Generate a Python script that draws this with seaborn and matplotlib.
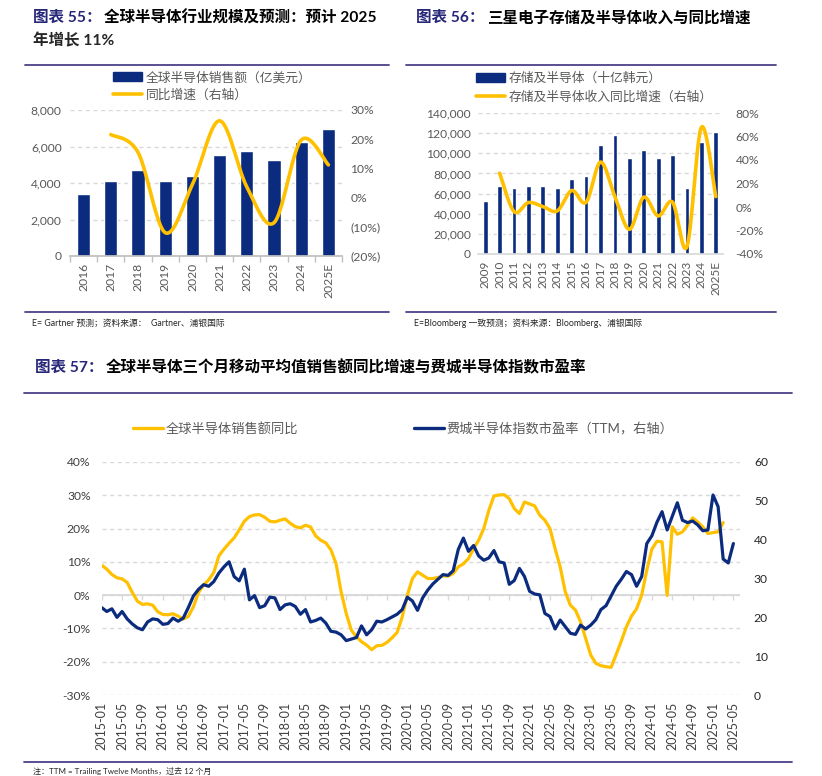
import numpy as np
import pandas as pd
import matplotlib
matplotlib.use('Agg')
import matplotlib.pyplot as plt
from matplotlib.lines import Line2D
from matplotlib.patches import Patch
import seaborn as sns

sns.set_theme(style='white')
plt.rcParams['font.family'] = ['Lato', 'Noto Sans CJK SC', 'DejaVu Sans']

NAVY = '#0B2C7E'
GOLD = '#FFC000'
GRID = '#D9D9D9'
AXIS = '#BFBFBF'
TICK = '#595959'
RULE = '#4A4189'
TITLE_BLUE = '#27277A'

W, H = 822, 776

# ---- chart 55: global semiconductor sales
years55 = ['2016', '2017', '2018', '2019', '2020', '2021', '2022', '2023', '2024', '2025E']
sales55 = [3400, 4110, 4690, 4110, 4400, 5530, 5740, 5260, 6250, 6960]
yoy55 = [np.nan, 21.6, 15.5, -12.0, 4.5, 26.3, 3.7, -8.6, 19.7, 11.2]

# ---- chart 56: Samsung memory & semiconductor revenue
years56 = ['2009', '2010', '2011', '2012', '2013', '2014', '2015', '2016', '2017',
           '2018', '2019', '2020', '2021', '2022', '2023', '2024', '2025E']
rev56 = [52400, 67300, 65300, 67300, 67300, 65300, 74600, 77900, 108100,
         118100, 95200, 102800, 94900, 98500, 66000, 110800, 121100]
yoy56 = [np.nan, 28.8, -3.9, 3.8, 0.4, -3.3, 14.0, 4.0, 38.2,
         8.9, -19.0, 8.3, -7.6, 4.1, -33.7, 67.8, 8.9]

# ---- chart 57: monthly series, 2015-01 .. 2025-05
months57 = pd.date_range('2015-01-01', '2025-05-01', freq='MS')
yoy57 = [9.0, 7.8, 6.2, 5.2, 4.9, 3.8, 0.8, -1.8, -2.8, -2.6, -3.0, -5.0,
         -5.8, -5.9, -5.6, -6.3, -7.2, -6.4, -3.5, 0.8, 3.0, 4.6, 6.8, 11.8,
         13.8, 15.6, 17.2, 19.6, 22.2, 23.6, 24.1, 24.2, 23.4, 22.2, 22.0, 22.5,
         22.9, 21.6, 20.6, 20.2, 21.0, 20.5, 17.8, 16.5, 15.7, 13.6, 9.5, 1.0,
         -5.5, -10.5, -12.5, -14.0, -15.0, -16.4, -15.2, -15.1, -14.2, -12.8, -11.2, -6.5,
         0.0, 5.0, 7.0, 6.0, 5.0, 5.0, 5.3, 5.8, 5.7, 6.5, 8.5, 9.4,
         11.0, 14.0, 16.5, 20.0, 25.5, 29.8, 30.1, 30.2, 29.0, 26.0, 24.5, 28.0,
         27.4, 26.8, 24.0, 22.5, 20.0, 14.0, 8.5, 1.0, -3.0, -4.5, -8.0, -13.0,
         -18.0, -20.5, -21.2, -21.5, -21.7, -17.8, -13.8, -9.5, -6.3, -4.1, 0.0, 7.5,
         13.8, 16.2, 16.0, -0.1, 20.5, 18.3, 19.0, 21.0, 23.2, 22.0, 20.5, 18.5,
         18.8, 19.0, 21.8]
pe57 = [22.5, 21.5, 22.2, 20.0, 21.5, 19.6, 18.3, 17.3, 16.8, 18.8, 19.6, 19.4,
        18.2, 18.4, 19.8, 19.0, 19.8, 22.5, 25.5, 27.2, 28.4, 28.0, 29.2, 31.4,
        33.0, 34.3, 30.5, 29.4, 32.4, 24.5, 25.6, 22.5, 23.0, 25.2, 25.0, 22.0,
        23.2, 23.5, 22.8, 20.8, 22.0, 18.8, 19.2, 19.8, 18.5, 16.4, 16.2, 15.5,
        14.0, 14.4, 14.8, 17.8, 15.5, 16.8, 19.0, 18.8, 19.4, 20.1, 20.8, 22.0,
        25.2, 24.2, 21.8, 25.0, 27.0, 28.6, 29.8, 31.0, 30.8, 32.0, 37.5, 40.4,
        37.0, 38.5, 35.8, 34.7, 35.3, 37.2, 34.3, 34.0, 28.5, 29.5, 32.6, 30.5,
        26.7, 26.0, 25.8, 21.0, 20.2, 17.0, 19.3, 17.6, 15.9, 15.6, 18.0, 17.0,
        18.0, 19.4, 22.0, 23.0, 25.5, 28.0, 29.8, 31.8, 31.0, 28.0, 30.5, 39.0,
        41.0, 44.5, 47.2, 42.5, 46.0, 49.5, 45.0, 44.4, 44.8, 43.8, 42.3, 42.5,
        51.5, 48.5, 35.0, 34.0, 39.0]


def fx(x):
    return x / W


def fy(y):
    return 1 - y / H


def smooth(xs, ys, n=24):
    # Excel-style smoothed line drawn through the read points (Catmull-Rom)
    p = np.column_stack([np.asarray(xs, float), np.asarray(ys, float)])
    p = np.vstack([p[0], p, p[-1]])
    t = np.linspace(0, 1, n, endpoint=False)[:, None]
    segs = []
    for i in range(1, len(p) - 2):
        p0, p1, p2, p3 = p[i - 1], p[i], p[i + 1], p[i + 2]
        segs.append(0.5 * (2 * p1 + (-p0 + p2) * t
                           + (2 * p0 - 5 * p1 + 4 * p2 - p3) * t ** 2
                           + (-p0 + 3 * p1 - 3 * p2 + p3) * t ** 3))
    segs.append(p[-2][None])
    out = np.vstack(segs)
    return out[:, 0], out[:, 1]


def style_axes(ax, ax2):
    for s in ax.spines.values():
        s.set_visible(False)
    for s in ax2.spines.values():
        s.set_visible(False)
    ax.yaxis.grid(True, linestyle=(0, (3, 2.5)), color=GRID, lw=1)
    ax.xaxis.grid(False)
    ax2.grid(False)
    ax.set_axisbelow(True)
    ax.set_xlabel('')
    ax.set_ylabel('')
    ax2.set_ylabel('')


def add_rule(x0, x1, y):
    fig.add_artist(Line2D([fx(x0), fx(x1)], [fy(y), fy(y)], color=RULE, lw=1.3))


TSIZE = 11.2


def add_title(x, y, head, rest, gap):
    fig.text(fx(x), fy(y), head, color=TITLE_BLUE, fontsize=TSIZE, fontweight='bold', va='center')
    fig.text(fx(x + gap), fy(y), rest, color='black', fontsize=TSIZE, fontweight='bold', va='center')


fig = plt.figure(figsize=(W / 100, H / 100), dpi=100)
fig.patch.set_facecolor('white')

# ================= chart 55 =================
add_title(33, 18, '图表 55：', '全球半导体行业规模及预测：预计 2025', 71)
fig.text(fx(33), fy(41), '年增长 11%', fontsize=TSIZE, fontweight='bold', va='center')
add_rule(25, 389, 65)
add_rule(25, 389, 312)
fig.text(fx(32), fy(323), 'E= Gartner 预测；资料来源：  Gartner、浦银国际', fontsize=6.3, va='center')

ax = fig.add_axes([fx(70), fy(256), fx(342) - fx(70), fy(110) - fy(256)])
sns.barplot(x=years55, y=sales55, color=NAVY, width=0.48, saturation=1, ax=ax)
ax2 = ax.twinx()
mask = ~np.isnan(yoy55)
sx, sy = smooth(np.arange(len(years55))[mask], np.array(yoy55)[mask])
ax2.plot(sx, sy, color=GOLD, lw=2.6, solid_capstyle='round')
style_axes(ax, ax2)
ax.spines['bottom'].set_visible(True)
ax.spines['bottom'].set_color(AXIS)
ax.set_xlim(-0.5, len(years55) - 0.5)
ax.set_ylim(0, 8000)
ax.set_yticks(range(0, 8001, 2000))
ax.set_yticklabels([f'{v:,}' for v in range(0, 8001, 2000)])
ax.set_xticks(range(len(years55)))
ax.set_xticklabels(years55, rotation=90)
ax.set_xticks(np.arange(-0.5, len(years55)), minor=True)
ax.tick_params(axis='x', which='major', length=0, pad=5, labelsize=8.7, labelcolor=TICK)
ax.tick_params(axis='x', which='minor', length=4, color=AXIS, direction='out', bottom=True)
ax.tick_params(axis='y', length=0, pad=6, labelsize=8.7, labelcolor=TICK)
ax2.set_ylim(-20, 30)
r55 = list(range(-20, 31, 10))
ax2.set_yticks(r55)
ax2.set_yticklabels([f'({-v}%)' if v < 0 else f'{v}%' for v in r55])
ax2.tick_params(axis='y', length=0, pad=6, labelsize=8.7, labelcolor=TICK)

fig.legend(handles=[Patch(color=NAVY), Line2D([], [], color=GOLD, lw=2.6)],
           labels=['全球半导体销售额（亿美元）', '同比增速（右轴）'],
           loc='upper left', bbox_to_anchor=(fx(113), fy(71)), frameon=False,
           fontsize=9.2, labelcolor=TICK, handlelength=2.3, handletextpad=0.25,
           borderpad=0, borderaxespad=0, labelspacing=0.4)

# ================= chart 56 =================
add_title(416, 18, '图表 56：', '三星电子存储及半导体收入与同比增速', 71)
add_rule(406, 776, 65)
add_rule(406, 776, 312)
fig.text(fx(414), fy(323), 'E=Bloomberg 一致预测；资料来源：Bloomberg、浦银国际', fontsize=6.3, va='center')

bx = fig.add_axes([fx(478), fy(254), fx(723) - fx(478), fy(113) - fy(254)])
sns.barplot(x=years56, y=rev56, color=NAVY, width=0.33, saturation=1, ax=bx)
bx2 = bx.twinx()
mask = ~np.isnan(yoy56)
sx, sy = smooth(np.arange(len(years56))[mask], np.array(yoy56)[mask])
bx2.plot(sx, sy, color=GOLD, lw=2.6, solid_capstyle='round')
style_axes(bx, bx2)
bx.spines['bottom'].set_visible(True)
bx.spines['bottom'].set_color(GRID)
bx.set_xlim(-0.5, len(years56) - 0.5)
bx.set_ylim(0, 140000)
bx.set_yticks(range(0, 140001, 20000))
bx.set_yticklabels([f'{v:,}' for v in range(0, 140001, 20000)])
bx.set_xticks(range(len(years56)))
bx.set_xticklabels(years56, rotation=90)
bx.tick_params(axis='x', length=0, pad=5, labelsize=8.5, labelcolor=TICK)
bx.tick_params(axis='y', length=0, pad=5, labelsize=8.7, labelcolor=TICK)
bx2.set_ylim(-40, 80)
r56 = list(range(-40, 81, 20))
bx2.set_yticks(r56)
bx2.set_yticklabels([f'{v}%' for v in r56])
bx2.tick_params(axis='y', length=0, pad=9, labelsize=8.7, labelcolor=TICK)

fig.legend(handles=[Patch(color=NAVY), Line2D([], [], color=GOLD, lw=2.6)],
           labels=['存储及半导体（十亿韩元）', '存储及半导体收入同比增速（右轴）'],
           loc='upper left', bbox_to_anchor=(fx(476), fy(72)), frameon=False,
           fontsize=9.2, labelcolor=TICK, handlelength=2.3, handletextpad=0.25,
           borderpad=0, borderaxespad=0, labelspacing=0.45)

# ================= chart 57 =================
add_title(35, 368, '图表 57：', '全球半导体三个月移动平均值销售额同比增速与费城半导体指数市盈率', 71)
add_rule(24, 792, 393)
add_rule(24, 792, 762)
fig.text(fx(33), fy(771), '注：TTM = Trailing Twelve Months，过去 12 个月', fontsize=5.8, va='center')

cx = fig.add_axes([fx(101.7), fy(695), fx(740) - fx(101.7), fy(462) - fy(695)])
idx = np.arange(len(months57))
sns.lineplot(x=idx[:len(yoy57)], y=yoy57, color=GOLD, lw=2.3, ax=cx)
cx2 = cx.twinx()
sns.lineplot(x=idx, y=pe57, color=NAVY, lw=2.3, ax=cx2)
style_axes(cx, cx2)
cx.set_xlim(0, 125.3)
cx.set_ylim(-30, 40)
r57 = list(range(-30, 41, 10))
cx.set_yticks(r57)
cx.set_yticklabels([f'{v}%' for v in r57])
tick_idx = idx[::4]
cx.set_xticks(tick_idx)
cx.set_xticklabels(months57.strftime('%Y-%m')[::4], rotation=90)
cx.tick_params(axis='x', length=0, pad=5, labelsize=9, labelcolor='#404040')
cx.tick_params(axis='y', length=0, pad=8, labelsize=8.7, labelcolor='#404040')
cx.axhline(0, color=GRID, lw=1.4, zorder=1)
cx.plot(tick_idx, np.zeros(len(tick_idx)), ls='none', marker=3, ms=3.5, mew=1, color=GRID, zorder=1)
cx2.set_ylim(0, 60)
cx2.set_yticks(range(0, 61, 10))
cx2.tick_params(axis='y', length=0, pad=10, labelsize=8.7, labelcolor='#262626')

fig.legend(handles=[Line2D([], [], color=GOLD, lw=2.4), Line2D([], [], color=NAVY, lw=2.4)],
           labels=['全球半导体销售额同比', '费城半导体指数市盈率（TTM，右轴）'],
           loc='center left', bbox_to_anchor=(fx(133), fy(428)), frameon=False, ncol=2,
           fontsize=9.5, labelcolor=TICK, handlelength=2.3, handletextpad=0.15,
           columnspacing=8.8, borderpad=0, borderaxespad=0)

fig.savefig('out.png', dpi=100, facecolor='white')
